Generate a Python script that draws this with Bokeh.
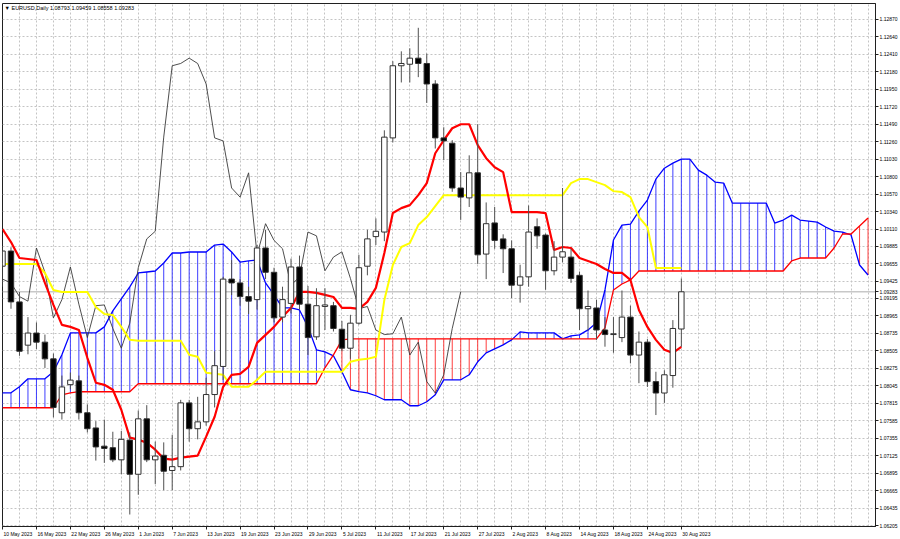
from bokeh.plotting import figure
from bokeh.models import (ColumnDataSource, Range1d, FixedTicker, PrintfTickFormatter,
                          Label, Span)
from bokeh.embed import file_html
from bokeh.resources import INLINE

# ---------------- data ----------------
date_labels = ["10 May 2023", "16 May 2023", "22 May 2023", "26 May 2023", "1 Jun 2023",
               "7 Jun 2023", "13 Jun 2023", "19 Jun 2023", "23 Jun 2023", "29 Jun 2023",
               "5 Jul 2023", "11 Jul 2023", "17 Jul 2023", "21 Jul 2023", "27 Jul 2023",
               "2 Aug 2023", "8 Aug 2023", "14 Aug 2023", "18 Aug 2023", "24 Aug 2023",
               "30 Aug 2023"]
date_label_bars = [0, 4, 8, 12, 16, 20, 24, 28, 32, 36, 40, 44, 48, 52, 56, 60, 64, 68, 72, 76, 80]

price_ticks = [1.12870, 1.12640, 1.12410, 1.12180, 1.11950, 1.11720, 1.11490, 1.11260,
               1.11030, 1.10800, 1.10570, 1.10340, 1.10110, 1.09885, 1.09655, 1.09425,
               1.09195, 1.08965, 1.08735, 1.08505, 1.08275, 1.08045, 1.07815, 1.07585,
               1.07355, 1.07125, 1.06895, 1.06665, 1.06435, 1.06205]

opens = [1.0962, 1.0982, 1.0915, 1.0858, 1.0874, 1.0862, 1.0840, 1.0769, 1.0806, 1.0811,
         1.0769, 1.0749, 1.0725, 1.0723, 1.0707, 1.0733, 1.0688, 1.0761, 1.0707, 1.0713,
         1.0693, 1.0698, 1.0782, 1.0748, 1.0757, 1.0793, 1.0830, 1.0945, 1.0940, 1.0922,
         1.0918, 1.0986, 1.0954, 1.0895, 1.0913, 1.0961, 1.0912, 1.0869, 1.0909, 1.0910,
         1.0879, 1.0854, 1.0887, 1.0962, 1.1001, 1.1007, 1.1131, 1.1226, 1.1228, 1.1236,
         1.1229, 1.1202, 1.1131, 1.1124, 1.1065, 1.1052, 1.1085, 1.0978, 1.1019, 1.0998,
         1.0985, 1.0937, 1.0948, 1.1014, 1.1003, 1.0956, 1.0974, 1.0974, 1.0950, 1.0906,
         1.0907, 1.0878, 1.0872, 1.0868, 1.0895, 1.0845, 1.0862, 1.0810, 1.0795, 1.0818,
         1.08793]

highs = [1.0987, 1.0987, 1.0928, 1.0895, 1.0888, 1.0872, 1.0847, 1.0818, 1.0822, 1.0818,
         1.0780, 1.0758, 1.0760, 1.0744, 1.0745, 1.0743, 1.0772, 1.0779, 1.0731, 1.0730,
         1.0740, 1.0786, 1.0786, 1.0790, 1.0815, 1.0850, 1.0948, 1.0970, 1.0945, 1.0935,
         1.0990, 1.1010, 1.0960, 1.0935, 1.0972, 1.0976, 1.0936, 1.0933, 1.0933, 1.0915,
         1.0890, 1.0898, 1.0977, 1.1010, 1.1025, 1.1141, 1.1232, 1.1245, 1.1249, 1.1276,
         1.1242, 1.1207, 1.1145, 1.1128, 1.1086, 1.1108, 1.1149, 1.1046, 1.1040, 1.1004,
         1.0996, 1.0964, 1.1042, 1.1025, 1.1005, 1.0995, 1.1065, 1.0985, 1.0955, 1.0930,
         1.0918, 1.0895, 1.0895, 1.0930, 1.0910, 1.0876, 1.0866, 1.0823, 1.0825, 1.0891,
         1.09459]

lows = [1.0935, 1.0906, 1.0844, 1.0846, 1.0853, 1.0828, 1.0763, 1.0760, 1.0800, 1.0760,
        1.0743, 1.0706, 1.0703, 1.0704, 1.0688, 1.0635, 1.0661, 1.0704, 1.0675, 1.0667,
        1.0667, 1.0693, 1.0731, 1.0734, 1.0752, 1.0776, 1.0812, 1.0924, 1.0910, 1.0899,
        1.0905, 1.0945, 1.0888, 1.0888, 1.0900, 1.0905, 1.0845, 1.0865, 1.0878, 1.0876,
        1.0850, 1.0840, 1.0885, 1.0950, 1.0990, 1.0995, 1.1125, 1.1204, 1.1204, 1.1211,
        1.1177, 1.1117, 1.1102, 1.1060, 1.1023, 1.1040, 1.0965, 1.0945, 1.0985, 1.0953,
        1.0920, 1.0914, 1.0935, 1.0985, 1.0931, 1.0950, 1.0967, 1.0940, 1.0878, 1.0877,
        1.0865, 1.0856, 1.0848, 1.0862, 1.0834, 1.0808, 1.0803, 1.0766, 1.0782, 1.0802,
        1.08558]

closes = [1.0982, 1.0915, 1.0850, 1.0874, 1.0862, 1.0840, 1.0776, 1.0803, 1.0812, 1.0769,
          1.0748, 1.0724, 1.0722, 1.0707, 1.0734, 1.0688, 1.0761, 1.0707, 1.0712, 1.0692,
          1.0698, 1.0782, 1.0748, 1.0757, 1.0793, 1.0831, 1.0945, 1.0940, 1.0922, 1.0916,
          1.0986, 1.0954, 1.0894, 1.0918, 1.0961, 1.0912, 1.0868, 1.0910, 1.0911, 1.0880,
          1.0854, 1.0887, 1.0960, 1.0998, 1.1008, 1.1132, 1.1226, 1.1229, 1.1236, 1.1229,
          1.1202, 1.1131, 1.1127, 1.1065, 1.1053, 1.1085, 1.0977, 1.1018, 1.0996, 1.0985,
          1.0937, 1.0948, 1.1007, 1.1002, 1.0956, 1.0974, 1.0981, 1.0946, 1.0906, 1.0909,
          1.0878, 1.0872, 1.0873, 1.0895, 1.0845, 1.0862, 1.0810, 1.0795, 1.0819, 1.0880,
          1.09283]

tenkan = [1.10109, 1.09938, 1.09728, 1.09715, 1.09702, 1.09400, 1.09110, 1.08847, 1.08821, 1.08781,
          1.08414, 1.08085, 1.08058, 1.07993, 1.07730, 1.07362, 1.07336, 1.07296, 1.07204, 1.07086,
          1.07073, 1.07099, 1.07112, 1.07125, 1.07375, 1.07638, 1.08032, 1.08190, 1.08203, 1.08295,
          1.08611, 1.08716, 1.08821, 1.08953, 1.09071, 1.09281, 1.09281, 1.09268, 1.09242, 1.09215,
          1.09071, 1.09071, 1.09058, 1.09150, 1.09334, 1.09794, 1.10320, 1.10385, 1.10425, 1.10556,
          1.10714, 1.11108, 1.11279, 1.11437, 1.11490, 1.11490, 1.11214, 1.11043, 1.10924, 1.10859,
          1.10333, 1.10333, 1.10333, 1.10333, 1.10320, 1.09833, 1.09873, 1.09860, 1.09728, 1.09689,
          1.09649, 1.09584, 1.09531, 1.09531, 1.09439, 1.09044, 1.08821, 1.08650, 1.08519, 1.08479,
          1.08558]

kijun = [1.09649, 1.09649, 1.09649, 1.09649, 1.09649, 1.09531, 1.09307, 1.09281, 1.09281, 1.09281,
         1.09281, 1.09084, 1.08992, 1.08979, 1.08821, 1.08650, 1.08637, 1.08637, 1.08637, 1.08637,
         1.08637, 1.08637, 1.08453, 1.08427, 1.08216, 1.08203, 1.08190, 1.08032, 1.08032, 1.08032,
         1.08124, 1.08229, 1.08229, 1.08229, 1.08229, 1.08229, 1.08229, 1.08229, 1.08229, 1.08229,
         1.08229, 1.08361, 1.08387, 1.08400, 1.08427, 1.09176, 1.09636, 1.09873, 1.09925, 1.10162,
         1.10267, 1.10412, 1.10556, 1.10556, 1.10556, 1.10556, 1.10556, 1.10556, 1.10556, 1.10556,
         1.10556, 1.10556, 1.10556, 1.10556, 1.10556, 1.10556, 1.10556, 1.10714, 1.10767, 1.10767,
         1.10727, 1.10688, 1.10609, 1.10596, 1.10530, 1.10267, 1.10136, 1.09597, 1.09597, 1.09597,
         1.09597]

span_a = [1.07953, 1.07953, 1.08032, 1.08137, 1.08137, 1.08137, 1.08229, 1.08453, 1.08742, 1.08742,
          1.08742, 1.08742, 1.08821, 1.09032, 1.09189, 1.09347, 1.09531, 1.09544, 1.09557, 1.09662,
          1.09794, 1.09794, 1.09807, 1.09807, 1.09807, 1.09899, 1.09912, 1.09807, 1.09675, 1.09689,
          1.09702, 1.09400, 1.09242, 1.09071, 1.09071, 1.09044, 1.08821, 1.08519, 1.08492, 1.08440,
          1.08229, 1.07993, 1.07967, 1.07953, 1.07914, 1.07861, 1.07861, 1.07861, 1.07782, 1.07782,
          1.07835, 1.07927, 1.08124, 1.08124, 1.08124, 1.08190, 1.08361, 1.08479, 1.08532, 1.08584,
          1.08650, 1.08755, 1.08742, 1.08742, 1.08742, 1.08742, 1.08663, 1.08703, 1.08716, 1.08781,
          1.08874, 1.09307, 1.09965, 1.10162, 1.10175, 1.10346, 1.10491, 1.10767, 1.10911, 1.10977,
          1.11030, 1.11030, 1.10885, 1.10819, 1.10727, 1.10714, 1.10451, 1.10451, 1.10451, 1.10451,
          1.10451, 1.10188, 1.10228, 1.10293, 1.10228, 1.10215, 1.10201, 1.10136, 1.10083, 1.10070,
          1.10031, 1.09636, 1.09504]

span_b = [1.07756, 1.07756, 1.07756, 1.07756, 1.07756, 1.07756, 1.07756, 1.07927, 1.07953, 1.07967,
          1.07967, 1.07967, 1.07967, 1.07967, 1.07967, 1.07967, 1.08072, 1.08072, 1.08072, 1.08072,
          1.08072, 1.08072, 1.08072, 1.08072, 1.08072, 1.08072, 1.08072, 1.08072, 1.08072, 1.08072,
          1.08072, 1.08072, 1.08072, 1.08072, 1.08072, 1.08072, 1.08072, 1.08072, 1.08282, 1.08453,
          1.08650, 1.08663, 1.08663, 1.08663, 1.08663, 1.08663, 1.08663, 1.08663, 1.08663, 1.08663,
          1.08663, 1.08663, 1.08663, 1.08663, 1.08663, 1.08663, 1.08663, 1.08663, 1.08663, 1.08663,
          1.08663, 1.08663, 1.08663, 1.08663, 1.08663, 1.08663, 1.08663, 1.08663, 1.08663, 1.08663,
          1.08663, 1.08808, 1.09307, 1.09386, 1.09439, 1.09557, 1.09557, 1.09557, 1.09557, 1.09557,
          1.09557, 1.09557, 1.09557, 1.09557, 1.09557, 1.09557, 1.09557, 1.09557, 1.09557, 1.09557,
          1.09557, 1.09557, 1.09557, 1.09689, 1.09728, 1.09728, 1.09728, 1.09728, 1.09860, 1.10044,
          1.10044, 1.10149, 1.10254]

chikou_shift = 26
symbol = "EURUSD,Daily"

# ---------------- layout constants ----------------
W, H = 900, 539
BORDER_L, BORDER_R, BORDER_T, BORDER_B = 2, 24, 3, 12
X_START, X_END = 0.0, 102.88
Y_START, Y_END = 1.06192, 1.13080
FONT = "Liberation Sans"
FS_PX = 5.0
FS = f"{FS_PX}px"
PX_PER_BAR = (W - BORDER_L - BORDER_R) / (X_END - X_START)

p = figure(width=W, height=H, output_backend="svg", toolbar_location=None,
           x_range=Range1d(X_START, X_END), y_range=Range1d(Y_START, Y_END),
           x_axis_location="below", y_axis_location="right",
           min_border_left=BORDER_L, min_border_top=BORDER_T,
           min_border_right=BORDER_R, min_border_bottom=BORDER_B,
           background_fill_color="white", border_fill_color="white")
p.outline_line_color = "#202020"
p.outline_line_width = 1

# grids
p.xgrid.ticker = FixedTicker(ticks=list(range(0, 104, 2)))
p.ygrid.ticker = FixedTicker(ticks=price_ticks)
for g in (p.xgrid, p.ygrid):
    g.grid_line_color = "#c4c4c4"
    g.grid_line_dash = "2 2"
    g.grid_line_width = 1

# right price axis (scale labels + last price)
last_price = closes[-1]
yax = p.yaxis[0]
yax.ticker = FixedTicker(ticks=price_ticks + [last_price])
yax.formatter = PrintfTickFormatter(format="%.5f")
yax.major_label_text_font = FONT
yax.major_label_text_font_size = FS
yax.major_label_text_color = "#000000"
yax.major_tick_out = 3
yax.major_tick_in = 0
yax.minor_tick_out = 0
yax.minor_tick_in = 0
yax.major_label_standoff = 1
yax.axis_line_color = "#202020"
yax.major_tick_line_color = "#202020"

# bottom time axis: tick marks at the bars (minor), labels left-aligned after them
CHAR_W = {" ": 0.278, "M": 0.833, "y": 0.5, "J": 0.5, "l": 0.222, "A": 0.667}
def text_width(s):
    return sum(CHAR_W.get(ch, 0.556) for ch in s) * FS_PX

label_pos = [b + (1.0 + text_width(t) / 2.0) / PX_PER_BAR
             for b, t in zip(date_label_bars, date_labels)]
xax = p.xaxis[0]
xax.ticker = FixedTicker(ticks=label_pos, minor_ticks=date_label_bars)
xax.major_label_overrides = {pos: t for pos, t in zip(label_pos, date_labels)}
xax.major_label_text_font = FONT
xax.major_label_text_font_size = FS
xax.major_label_text_color = "#000000"
xax.major_label_standoff = 1
xax.major_tick_out = 3
xax.major_tick_in = 0
xax.major_tick_line_color = None
xax.minor_tick_out = 3
xax.minor_tick_in = 0
xax.minor_tick_line_color = "#202020"
xax.axis_line_color = "#202020"

# bid line
p.add_layout(Span(location=last_price, dimension="width", line_color="#c8c8c8",
                  line_width=1.5, level="underlay"))

# cloud hatch
cloud_x = list(range(len(span_a)))
hatch_col = ["#2a2aff" if a >= b else "#ff2a2a" for a, b in zip(span_a, span_b)]
cloud_src = ColumnDataSource(dict(x=cloud_x, a=span_a, b=span_b, c=hatch_col))
p.segment(x0="x", y0="a", x1="x", y1="b", line_color="c", line_width=1,
          line_alpha=0.9, source=cloud_src)
p.line(cloud_x, span_a, line_color="#0000ff", line_width=1.3)
p.line(cloud_x, span_b, line_color="#ff0000", line_width=1.3)

# chikou span (closes drawn 26 bars back)
chikou_y = closes[chikou_shift:]
chikou_x = list(range(len(chikou_y)))
p.line(chikou_x, chikou_y, line_color="#3a3a3a", line_width=0.9)

# tenkan / kijun
bars = list(range(len(closes)))
p.line(bars, kijun, line_color="#ffff00", line_width=2)
p.line(bars, tenkan, line_color="#ff0000", line_width=2.2)

# candles
tops = [max(o, c) for o, c in zip(opens, closes)]
bots = [min(o, c) for o, c in zip(opens, closes)]
fills = ["#ffffff" if c >= o else "#000000" for o, c in zip(opens, closes)]
csrc = ColumnDataSource(dict(x=bars, h=highs, l=lows, t=tops, b=bots, f=fills))
p.segment(x0="x", y0="l", x1="x", y1="h", line_color="#505050", line_width=1, source=csrc)
p.vbar(x="x", top="t", bottom="b", width=0.64, fill_color="f", line_color="#303030",
       line_width=1, source=csrc)

# title
title = f"\u25BC {symbol}  {opens[-1]:.5f} {highs[-1]:.5f} {lows[-1]:.5f} {closes[-1]:.5f}"
p.add_layout(Label(x=X_START, y=Y_END, x_offset=2, y_offset=-4, text=title,
                   text_font=FONT, text_font_size="5.5px", text_color="#000000",
                   text_align="left", text_baseline="middle"))

open("out.html", "w").write(file_html(p, INLINE))
